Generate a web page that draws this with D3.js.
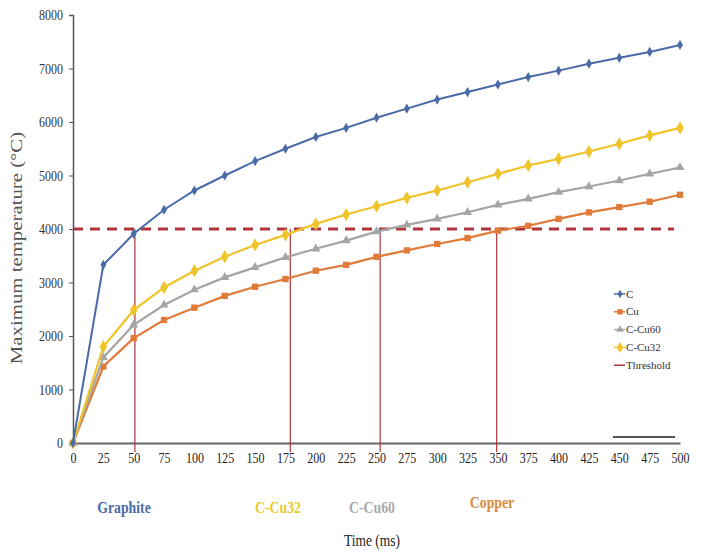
<!DOCTYPE html>
<html>
<head>
<meta charset="utf-8">
<script src="https://cdn.jsdelivr.net/npm/d3@7/dist/d3.min.js"></script>
<style>
  html, body { margin: 0; padding: 0; background: #fff; }
  svg { display: block; }
</style>
</head>
<body>
<svg id="chart" width="702" height="553"></svg>
<script>
// ---- data ----
const times = [0,25,50,75,100,125,150,175,200,225,250,275,300,325,350,375,400,425,450,475,500];
const seriesNames = ["C", "Cu", "C-Cu60", "C-Cu32"];
const valuesC     = [0,3330,3910,4360,4720,5000,5270,5500,5720,5890,6080,6250,6420,6560,6700,6840,6960,7090,7200,7310,7440];
const valuesCu    = [0,1430,1960,2300,2530,2750,2920,3065,3220,3330,3480,3600,3720,3830,3970,4060,4190,4310,4410,4510,4640];
const valuesCCu60 = [0,1600,2210,2580,2865,3096,3283,3470,3630,3783,3951,4076,4189,4313,4451,4563,4688,4794,4906,5031,5150];
const valuesCCu32 = [0,1800,2485,2908,3220,3483,3702,3890,4095,4270,4425,4582,4719,4875,5031,5187,5312,5449,5593,5750,5890];
const threshold = 4000;
const crossNames = ["Graphite", "C-Cu32", "C-Cu60", "Copper"];
const crossTimes = [51, 179, 253, 349];
const yTicks = [0,1000,2000,3000,4000,5000,6000,7000,8000];
const xTicks = times;
const legendNames = ["C", "Cu", "C-Cu60", "C-Cu32", "Threshold"];

// ---- styles ----
const FONT = "'Liberation Serif', 'Times New Roman', Times, serif";
const colors = { "C": "#4a6aa8", "Cu": "#e07b39", "C-Cu60": "#a5a5a5", "C-Cu32": "#efc428" };
const labelColors = ["#4a6aa8", "#e8cc2a", "#a8a8a8", "#d98a3c"];
const thrColor = "#b0343c";
const symbols = { "C": d3.symbolDiamond, "Cu": d3.symbolSquare, "C-Cu60": d3.symbolTriangle, "C-Cu32": d3.symbolDiamond };
const symSize = { "C": 30, "Cu": 40, "C-Cu60": 36, "C-Cu32": 50 };
const seriesData = { "C": valuesC, "Cu": valuesCu, "C-Cu60": valuesCCu60, "C-Cu32": valuesCCu32 };

const svg = d3.select("#chart").attr("font-family", FONT);
const x = d3.scaleLinear().domain([0, 500]).range([73, 680]);
const y = d3.scaleLinear().domain([0, 8000]).range([443, 15]);

// axes
const yAxis = d3.axisLeft(y).tickValues(yTicks).tickSize(4).tickFormat(d3.format("d"));
const gy = svg.append("g").attr("transform", "translate(73,0)").call(yAxis).attr("font-family", FONT);
gy.select(".domain").attr("stroke", "#555").attr("stroke-width", 1.5);
gy.selectAll(".tick line").attr("stroke", "#555");
gy.selectAll(".tick text").attr("font-size", 15).attr("fill", "#333")
  .attr("x", -10 / 0.8).attr("transform", "scale(0.8,1)");

const xAxis = d3.axisBottom(x).tickValues(xTicks).tickSize(0).tickFormat(d3.format("d"));
const gx = svg.append("g").attr("transform", "translate(0,443)").call(xAxis).attr("font-family", FONT);
gx.select(".domain").attr("stroke", "#666").attr("stroke-width", 2);
gx.selectAll(".tick text").attr("font-size", 15).attr("fill", "#222").attr("dy", "1.15em")
  .attr("transform", "scale(0.8,1)");

// threshold dashed line
svg.append("line")
  .attr("x1", x(0)).attr("x2", x(495))
  .attr("y1", y(threshold)).attr("y2", y(threshold))
  .attr("stroke", thrColor).attr("stroke-width", 3)
  .attr("stroke-dasharray", "10,7");

// vertical crossing lines
svg.selectAll("line.cross").data(crossTimes).enter().append("line")
  .attr("class", "cross")
  .attr("x1", d => x(d)).attr("x2", d => x(d))
  .attr("y1", y(threshold)).attr("y2", 452)
  .attr("stroke", thrColor).attr("stroke-width", 1.2);

// series
const line = d3.line().x((d, i) => x(times[i])).y(d => y(d));
const drawOrder = ["Cu", "C-Cu60", "C-Cu32", "C"];
drawOrder.forEach(name => {
  const vals = seriesData[name];
  svg.append("path").datum(vals)
    .attr("d", line).attr("fill", "none")
    .attr("stroke", colors[name]).attr("stroke-width", name === "C" ? 2 : 2.2);
  svg.selectAll(null).data(vals).enter().append("path")
    .attr("transform", (d, i) => `translate(${x(times[i])},${y(d)})`)
    .attr("d", d3.symbol().type(symbols[name]).size(symSize[name]))
    .attr("fill", colors[name]);
});

// legend
const lg = svg.append("g");
legendNames.forEach((name, i) => {
  const ly = 294 + i * 17.8;
  const c = name === "Threshold" ? thrColor : colors[name];
  lg.append("line").attr("x1", 614).attr("x2", 625).attr("y1", ly).attr("y2", ly)
    .attr("stroke", c).attr("stroke-width", 1.5);
  if (name !== "Threshold") {
    lg.append("path").attr("transform", `translate(620,${ly})`)
      .attr("d", d3.symbol().type(symbols[name]).size(symSize[name] * 0.7))
      .attr("fill", c);
  }
  lg.append("text").attr("x", 626).attr("y", ly + 3.5)
    .attr("font-size", 11).attr("fill", "#333")
    .text(name);
});
lg.append("line").attr("x1", 613).attr("x2", 675).attr("y1", 437).attr("y2", 437)
  .attr("stroke", "#555").attr("stroke-width", 2);

// material labels below axis
svg.selectAll("text.mat").data(crossNames).enter().append("text")
  .attr("class", "mat")
  .attr("transform", (d, i) => `translate(${[124, 278, 372, 492][i]},${[513, 513, 513, 508][i]}) scale(0.86,1.05)`)
  .attr("text-anchor", "middle")
  .attr("font-size", 16).attr("font-weight", "bold")
  .attr("fill", (d, i) => labelColors[i])
  .text(d => d);

// axis titles
svg.append("text").attr("transform", "translate(372,546) scale(0.9,1.05)").attr("text-anchor", "middle")
  .attr("font-size", 15).attr("fill", "#222").text("Time (ms)");
svg.append("text").attr("transform", "translate(22,248) rotate(-90) scale(1.3,1)")
  .attr("text-anchor", "middle").attr("font-size", 16).attr("fill", "#555")
  .text("Maximum temperature (°C)");
</script>
</body>
</html>
